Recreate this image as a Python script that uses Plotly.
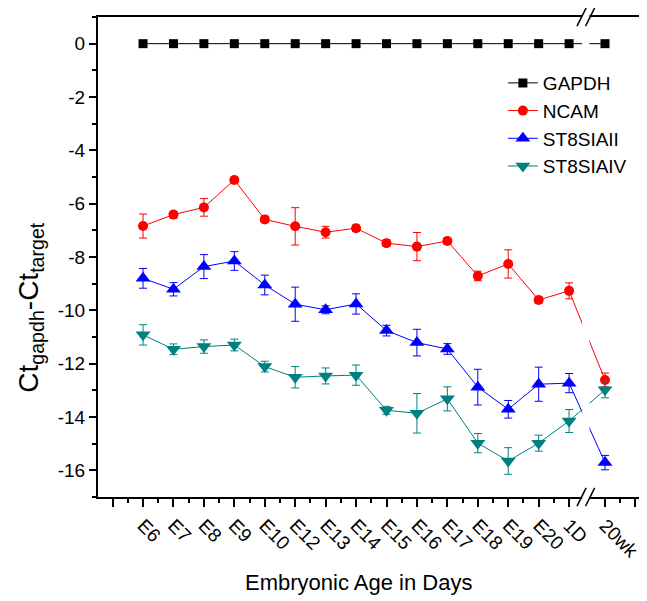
import plotly.graph_objects as go

categories = ["E6", "E7", "E8", "E9", "E10", "E12", "E13", "E14", "E15",
              "E16", "E17", "E18", "E19", "E20", "1D", "20wk"]

gapdh = [0, 0, 0, 0, 0, 0, 0, 0, 0, 0, 0, 0, 0, 0, 0, 0]
ncam = [-6.84, -6.41, -6.14, -5.11, -6.59, -6.85, -7.07, -6.92, -7.48,
        -7.61, -7.40, -8.71, -8.26, -9.61, -9.27, -12.61]
ncam_err = [0.45, 0.12, 0.33, 0.10, 0.12, 0.70, 0.22, 0.12, 0.12,
            0.53, 0.12, 0.18, 0.53, 0.12, 0.30, 0.26]
st8siaii = [-8.80, -9.21, -8.36, -8.15, -9.05, -9.77, -9.98, -9.76, -10.76,
            -11.21, -11.45, -12.88, -13.71, -12.77, -12.73, -15.71]
st8siaii_err = [0.37, 0.25, 0.45, 0.35, 0.37, 0.64, 0.15, 0.38, 0.20,
                0.50, 0.20, 0.67, 0.33, 0.64, 0.36, 0.27]
st8siaiv = [-10.92, -11.46, -11.36, -11.30, -12.11, -12.51, -12.46, -12.43, -13.75,
            -13.86, -13.32, -14.98, -15.65, -14.98, -14.15, -12.98]
st8siaiv_err = [0.38, 0.20, 0.25, 0.22, 0.20, 0.40, 0.30, 0.38, 0.15,
                0.74, 0.45, 0.36, 0.50, 0.30, 0.43, 0.30]

y_tick_vals = [0, -2, -4, -6, -8, -10, -12, -14, -16]
y_tick_text = ["0", "-2", "-4", "-6", "-8", "-10", "-12", "-14", "-16"]

x_title = "Embryonic Age in Days"
y_title = "Ct<sub>gapdh</sub>-Ct<sub>target</sub>"

# layout: evenly spaced categories, with an axis break before the last one
BREAK_SHIFT = 0.18
n = len(categories)
xpos = list(range(n - 1)) + [n - 1 + BREAK_SHIFT]

FONT = "Arial, 'Liberation Sans', sans-serif"

series = [
    ("GAPDH", gapdh, None, "#000000", "square", 9),
    ("NCAM", ncam, ncam_err, "#FF0000", "circle", 10),
    ("ST8SIAII", st8siaii, st8siaii_err, "#0000FF", "triangle-up", 13),
    ("ST8SIAIV", st8siaiv, st8siaiv_err, "#008080", "triangle-down", 13),
]

fig = go.Figure()
for name, vals, err, color, sym, size in series:
    tr = dict(
        x=xpos, y=vals, name=name, mode="lines+markers",
        line=dict(color=color, width=1),
        marker=dict(symbol=sym, size=size, color=color),
    )
    if err is not None:
        tr["error_y"] = dict(type="data", array=err, visible=True,
                             color=color, thickness=1, width=4)
    fig.add_trace(go.Scatter(**tr))

major_x = [-1] + xpos + [xpos[-1] + 1]
major_text = [""] + categories + [""]
minor_x = [v + 0.5 for v in range(-2, n - 1)] + [xpos[-1] + 0.5]

fig.update_xaxes(
    range=[-1.48, 16.33], automargin=False,
    tickmode="array", tickvals=major_x, ticktext=major_text,
    tickangle=45, tickfont=dict(family=FONT, size=19, color="black"),
    ticks="outside", ticklen=8, tickwidth=2, tickcolor="black",
    minor=dict(tickmode="array", tickvals=minor_x, ticks="outside",
               ticklen=4, tickwidth=2, tickcolor="black"),
    showline=True, linecolor="black", linewidth=2, mirror=True,
    showgrid=False, zeroline=False,
)
fig.update_yaxes(
    range=[-17, 1], automargin=False,
    tickmode="array", tickvals=y_tick_vals, ticktext=y_tick_text,
    tickfont=dict(family=FONT, size=19, color="black"),
    ticks="outside", ticklen=7, tickwidth=2, tickcolor="black",
    minor=dict(dtick=1, tick0=0, ticks="outside", ticklen=4, tickwidth=2, tickcolor="black"),
    showline=True, linecolor="black", linewidth=2, mirror=True,
    showgrid=False, zeroline=False,
)

# axis titles
fig.add_annotation(text=x_title, xref="paper", yref="paper", x=0.48, y=-0.178,
                   xanchor="center", yanchor="middle", showarrow=False,
                   font=dict(family=FONT, size=22, color="black"))
fig.add_annotation(text=y_title, xref="paper", yref="paper", x=-0.124, y=0.394,
                   xanchor="center", yanchor="middle", showarrow=False, textangle=-90,
                   font=dict(family=FONT, size=28, color="black"))

# axis break: white gap plus "//" marks on top and bottom axes
bx0, bx1 = 14.43, 14.67
fig.add_shape(type="rect", xref="x", yref="paper", x0=bx0, x1=bx1, y0=-0.03, y1=1.03,
              fillcolor="white", line=dict(width=0), layer="above")
for yc in (0.0, 1.0):
    for xc in (14.41, 14.69):
        fig.add_shape(type="line", xref="x", yref="paper",
                      x0=xc - 0.15, x1=xc + 0.15, y0=yc - 0.019, y1=yc + 0.019,
                      line=dict(color="black", width=1.5), layer="above")

# the page body has an 8px default margin, so the figure is sized to fit the window
fig.update_layout(
    width=639, height=593,
    margin=dict(l=90, r=7, t=9, b=104),
    paper_bgcolor="white", plot_bgcolor="white",
    font=dict(family=FONT, color="black"),
    showlegend=True,
    legend=dict(x=0.747, y=0.902, xanchor="left", yanchor="top",
                font=dict(family=FONT, size=19, color="black"),
                bgcolor="rgba(0,0,0,0)", borderwidth=0, tracegroupgap=0),
)

fig.write_html("out.html")
